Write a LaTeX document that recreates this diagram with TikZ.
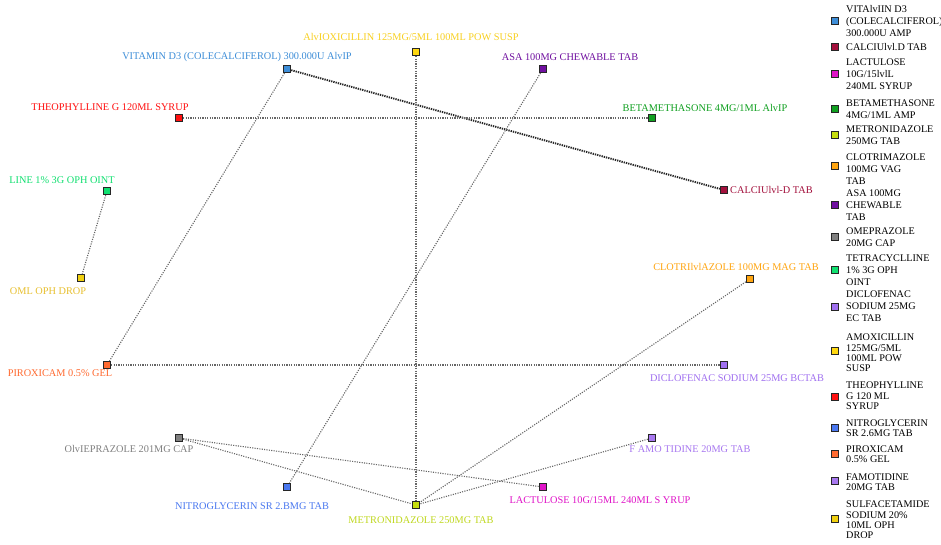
\documentclass[tikz,border=0pt]{standalone}
\usepackage{fontspec}
\setmainfont{Liberation Serif}
\begin{document}
\begin{tikzpicture}[x=1pt,y=-1pt,
  sq/.style={draw=black!85,line width=0.9pt,minimum size=7.5pt,inner sep=0pt,fill=#1},
  lab/.style={inner sep=0pt,font=\fontsize{10.3}{12}\selectfont,text=#1},
  leg/.style={inner sep=0pt,anchor=west,align=left,font=\fontsize{10.2}{12}\selectfont},
  leg4/.style={inner sep=0pt,anchor=west,align=left,font=\fontsize{10.2}{10.4}\selectfont},
  edge/.style={draw=black!60,line width=1.1pt,dash pattern=on 1.1pt off 1.3pt},
  edgeb/.style={draw=black!85,line width=1.9pt,dash pattern=on 1.3pt off 1pt}]
\definecolor{cVit}{HTML}{3E8ED8}
\definecolor{cCal}{HTML}{A3103C}
\definecolor{cLac}{HTML}{E014C8}
\definecolor{cBet}{HTML}{10A020}
\definecolor{cMet}{HTML}{C8E010}
\definecolor{cClo}{HTML}{FFA510}
\definecolor{cAsa}{HTML}{7010A0}
\definecolor{cOme}{HTML}{808080}
\definecolor{cTet}{HTML}{10E070}
\definecolor{cDic}{HTML}{A070F0}
\definecolor{cAmo}{HTML}{FFD810}
\definecolor{cThe}{HTML}{FF1010}
\definecolor{cNit}{HTML}{4A78F0}
\definecolor{cPir}{HTML}{FF6A30}
\definecolor{cFam}{HTML}{A878F0}
\definecolor{cSul}{HTML}{F0D010}
\definecolor{tMet}{HTML}{C0D820}
\definecolor{tAmo}{HTML}{F8D020}
\definecolor{tSul}{HTML}{E8C030}
\useasboundingbox[fill=white] (0,0) rectangle (941,544);

% nodes
\node[sq=cVit] (vit) at (287,69) {};
\node[sq=cAmo] (amo) at (416,52) {};
\node[sq=cAsa] (asa) at (543,69) {};
\node[sq=cThe] (the) at (179,118) {};
\node[sq=cBet] (bet) at (652,118) {};
\node[sq=cCal] (cal) at (724,190) {};
\node[sq=cTet] (tet) at (107,191) {};
\node[sq=cSul] (sul) at (81,278) {};
\node[sq=cClo] (clo) at (750,279) {};
\node[sq=cPir] (pir) at (107,365) {};
\node[sq=cDic] (dic) at (724,365) {};
\node[sq=cOme] (ome) at (179,438) {};
\node[sq=cFam] (fam) at (652,438) {};
\node[sq=cNit] (nit) at (287,487) {};
\node[sq=cLac] (lac) at (543,487) {};
\node[sq=cMet] (met) at (416,505) {};

% edges
\draw[edgeb] (vit) -- (cal);
\draw[edge] (vit) -- (pir);
\draw[edge] (the) -- (bet);
\draw[edge] (amo) -- (met);
\draw[edge] (asa) -- (nit);
\draw[edge] (tet) -- (sul);
\draw[edge] (pir) -- (dic);
\draw[edge] (clo) -- (met);
\draw[edge] (ome) -- (met);
\draw[edge] (ome) -- (lac);
\draw[edge] (fam) -- (met);
% redraw squares on top
\foreach \n/\c in {vit/cVit,amo/cAmo,asa/cAsa,the/cThe,bet/cBet,cal/cCal,tet/cTet,sul/cSul,clo/cClo,pir/cPir,dic/cDic,ome/cOme,fam/cFam,nit/cNit,lac/cLac,met/cMet}
  \node[sq=\c] at (\n) {};

% labels
\node[lab=cVit] (vitL) at (237,57) {VITAMIN D3 (COLECALCIFEROL) 300.000U AlvIP};
\node[lab=tAmo] (amoL) at (411,37) {AlvIOXICILLIN 125MG/5ML 100ML POW SUSP};
\node[lab=cAsa] (asaL) at (570,57) {ASA 100MG CHEWABLE TAB};
\node[lab=cThe] (theL) at (110,107) {THEOPHYLLINE G 120ML SYRUP};
\node[lab=cBet] (betL) at (705,108) {BETAMETHASONE 4MG/1ML AlvIP};
\node[lab=cCal,anchor=west] (calL) at (730,190) {CALCIUlvl-D TAB};
\node[lab=cTet] (tetL) at (62,180) {LINE 1\% 3G OPH OINT};
\node[lab=tSul] (sulL) at (48,291) {OML OPH DROP};
\node[lab=cClo] (cloL) at (736,267) {CLOTRIlvlAZOLE 100MG MAG TAB};
\node[lab=cPir] (pirL) at (60,373) {PIROXICAM 0.5\% GEL};
\node[lab=cDic] (dicL) at (737,378) {DICLOFENAC SODIUM 25MG BCTAB};
\node[lab=cOme] (omeL) at (129,449) {OlvIEPRAZOLE 201MG CAP};
\node[lab=cFam] (famL) at (690,449) {F AMO TIDINE 20MG TAB};
\node[lab=cNit] (nitL) at (252,506) {NITROGLYCERIN SR 2.BMG TAB};
\node[lab=cLac] (lacL) at (600,500) {LACTULOSE 10G/15ML 240ML S YRUP};
\node[lab=tMet] (metL) at (421,520) {METRONIDAZOLE 250MG TAB};

% legend
\node[sq=cVit] (k1) at (835,21) {};
\node[leg] (t1) at (846,21) {VITAlvIIN D3\\(COLECALCIFEROL)\\300.000U AMP};
\node[sq=cCal] (k2) at (835,47) {};
\node[leg] (t2) at (846,47) {CALCIUlvl.D TAB};
\node[sq=cLac] (k3) at (835,74) {};
\node[leg] (t3) at (846,74) {LACTULOSE\\10G/15lvlL\\240ML SYRUP};
\node[sq=cBet] (k4) at (835,109) {};
\node[leg] (t4) at (846,109) {BETAMETHASONE\\4MG/1ML AMP};
\node[sq=cMet] (k5) at (835,135) {};
\node[leg] (t5) at (846,135) {METRONIDAZOLE\\250MG TAB};
\node[sq=cClo] (k6) at (835,166) {};
\node[leg] (t6) at (846,169) {CLOTRIMAZOLE\\100MG VAG\\TAB};
\node[sq=cAsa] (k7) at (835,205) {};
\node[leg] (t7) at (846,205) {ASA 100MG\\CHEWABLE\\TAB};
\node[sq=cOme] (k8) at (835,237) {};
\node[leg] (t8) at (846,237) {OMEPRAZOLE\\20MG CAP};
\node[sq=cTet] (k9) at (835,270) {};
\node[leg] (t9) at (846,270) {TETRACYCLLINE\\1\% 3G OPH\\OINT};
\node[sq=cDic] (k10) at (835,307) {};
\node[leg] (t10) at (846,306) {DICLOFENAC\\SODIUM 25MG\\EC TAB};
\node[sq=cAmo] (k11) at (835,351) {};
\node[leg4] (t11) at (846,353) {AMOXICILLIN\\125MG/5ML\\100ML POW\\SUSP};
\node[sq=cThe] (k12) at (835,397) {};
\node[leg4] (t12) at (846,396) {THEOPHYLLINE\\G 120 ML\\SYRUP};
\node[sq=cNit] (k13) at (835,428) {};
\node[leg4] (t13) at (846,428) {NITROGLYCERIN\\SR 2.6MG TAB};
\node[sq=cPir] (k14) at (835,454) {};
\node[leg4] (t14) at (846,454) {PIROXICAM\\0.5\% GEL};
\node[sq=cFam] (k15) at (835,481) {};
\node[leg4] (t15) at (846,482) {FAMOTIDINE\\20MG TAB};
\node[sq=cSul] (k16) at (835,519) {};
\node[leg4] (t16) at (846,520) {SULFACETAMIDE\\SODIUM 20\%\\10ML OPH\\DROP};
\end{tikzpicture}
\end{document}
